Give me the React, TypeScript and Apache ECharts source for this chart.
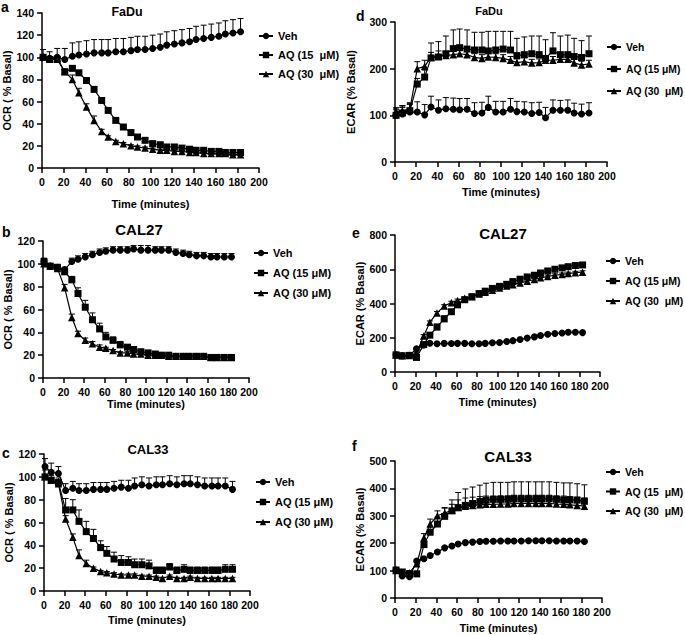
import React, { useEffect, useRef } from "react";
import * as echarts from "echarts";

// Measurement times (minutes)
const times = [1, 7, 14, 21, 28, 34, 41, 48, 55, 61, 68, 75, 82, 88, 95, 102, 109, 115, 122, 129, 136, 142, 149, 156, 163, 169, 176, 183];
const xTicks = [0, 20, 40, 60, 80, 100, 120, 140, 160, 180, 200];

// a: FaDu OCR
const vehA = [100, 99, 100, 98, 101, 102, 103, 104, 104, 104, 105, 105, 106, 107, 107, 108, 109, 111, 112, 113, 114, 116, 117, 118, 119, 121, 122, 123];
const vehAErr = [7, 6, 8, 10, 12, 12, 12, 12, 12, 12, 12, 12, 12, 12, 12, 12, 12, 12, 12, 12, 12, 12, 12, 12, 12, 12, 12, 12];
const aq15A = [100, 98, 98, 87, 90, 86, 79, 71, 61, 52, 43, 37, 32, 28, 25, 22, 21, 19, 19, 18, 17, 16, 16, 15, 15, 14, 14, 14];
const aq15AErr = [2, 2, 2, 2, 2, 2, 2, 2, 2, 2, 2, 2, 2, 2, 2, 2, 2, 2, 2, 2, 2, 2, 2, 2, 2, 2, 2, 2];
const aq30A = [100, 99, 99, 87, 80, 68, 55, 43, 33, 28, 24, 22, 20, 19, 18, 17, 16, 16, 15, 15, 14, 14, 13, 13, 13, 13, 12, 12];
const aq30AErr = [1, 1, 1, 2, 4, 4, 3, 4, 2, 1, 1, 1, 1, 1, 1, 1, 1, 1, 1, 1, 1, 1, 1, 1, 1, 1, 1, 1];

// d: FaDu ECAR
const vehD = [100, 103, 107, 107, 101, 118, 111, 114, 113, 112, 113, 104, 105, 117, 107, 107, 113, 108, 107, 104, 106, 95, 111, 111, 111, 105, 103, 105];
const vehDErr = [16, 18, 20, 22, 22, 23, 22, 24, 24, 24, 23, 23, 23, 24, 23, 23, 23, 22, 22, 23, 22, 22, 22, 21, 22, 21, 21, 22];
const aq15D = [100, 105, 110, 167, 182, 223, 225, 232, 243, 245, 242, 240, 240, 238, 240, 242, 240, 228, 230, 232, 230, 222, 238, 230, 230, 226, 224, 232];
const aq15DErr = [12, 12, 13, 12, 15, 32, 33, 38, 40, 40, 41, 38, 38, 42, 40, 38, 40, 37, 38, 38, 40, 40, 39, 40, 42, 39, 36, 38];
const aq30D = [108, 110, 113, 200, 205, 225, 228, 228, 230, 232, 230, 224, 222, 225, 224, 222, 218, 213, 215, 212, 213, 218, 218, 220, 220, 212, 208, 210];
const aq30DErr = [8, 10, 12, 15, 13, 10, 10, 8, 8, 8, 8, 8, 8, 8, 8, 8, 8, 8, 8, 8, 8, 8, 8, 8, 8, 8, 8, 8];

// b: CAL27 OCR
const vehB = [102, 98, 97, 95, 102, 104, 106, 108, 110, 111, 112, 112, 112, 113, 112, 112, 112, 112, 112, 110, 109, 108, 107, 107, 106, 106, 106, 106];
const vehBErr = [3, 2, 2, 2, 3, 3, 3, 3, 3, 3, 3, 3, 3, 3, 4, 4, 3, 3, 3, 3, 3, 3, 3, 3, 3, 3, 3, 3];
const aq15B = [102, 98, 97, 93, 86, 74, 62, 51, 43, 36, 33, 29, 27, 25, 23, 22, 21, 20, 20, 19, 19, 19, 19, 19, 18, 18, 18, 18];
const aq15BErr = [2, 2, 2, 3, 3, 5, 6, 6, 5, 4, 3, 3, 2, 2, 2, 2, 2, 2, 2, 2, 2, 2, 2, 2, 2, 2, 2, 2];
const aq30B = [100, 98, 96, 79, 53, 39, 33, 30, 27, 26, 24, 22, 22, 21, 21, 20, 20, 20, 19, 19, 19, 19, 19, 19, 18, 18, 18, 18];
const aq30BErr = [1, 1, 1, 3, 3, 2, 2, 2, 2, 1, 1, 1, 1, 1, 1, 1, 1, 1, 1, 1, 1, 1, 1, 1, 1, 1, 1, 1];

// e: CAL27 ECAR
const vehE = [100, 95, 97, 135, 158, 168, 165, 167, 166, 167, 167, 165, 165, 167, 171, 172, 178, 183, 190, 198, 205, 213, 220, 225, 228, 232, 232, 230];
const vehEErr = [5, 5, 5, 5, 5, 5, 5, 5, 5, 5, 5, 5, 5, 5, 5, 5, 5, 5, 5, 5, 5, 5, 5, 5, 5, 5, 5, 5];
const aq15E = [100, 95, 97, 85, 160, 215, 262, 310, 352, 392, 422, 440, 458, 472, 488, 500, 512, 528, 542, 555, 565, 578, 590, 600, 608, 615, 622, 625];
const aq15EErr = [5, 5, 5, 5, 10, 12, 18, 18, 12, 10, 8, 8, 8, 8, 8, 8, 8, 8, 8, 8, 8, 8, 8, 8, 8, 8, 8, 8];
const aq30E = [100, 95, 97, 110, 210, 290, 345, 385, 405, 418, 430, 440, 455, 465, 478, 490, 502, 510, 520, 530, 540, 550, 558, 565, 570, 575, 580, 583];
const aq30EErr = [5, 5, 5, 5, 8, 8, 8, 8, 8, 8, 8, 8, 8, 8, 8, 8, 8, 8, 8, 8, 8, 8, 8, 8, 8, 8, 8, 8];

// c: CAL33 OCR
const vehC = [109, 104, 103, 88, 90, 88, 88, 89, 89, 89, 90, 91, 90, 92, 93, 92, 93, 93, 94, 93, 94, 94, 93, 92, 92, 92, 92, 89];
const vehCErr = [7, 8, 6, 6, 6, 6, 6, 6, 6, 6, 6, 6, 7, 7, 7, 7, 7, 7, 7, 7, 7, 7, 7, 7, 7, 7, 7, 7];
const aq15C = [100, 97, 95, 71, 71, 61, 52, 46, 38, 33, 28, 25, 25, 23, 23, 22, 18, 18, 21, 18, 19, 18, 18, 18, 18, 18, 19, 19];
const aq15CErr = [6, 4, 4, 10, 9, 10, 9, 8, 6, 6, 6, 6, 5, 5, 5, 5, 3, 3, 3, 3, 4, 3, 3, 3, 3, 3, 4, 4];
const aq30C = [100, 97, 94, 63, 47, 31, 24, 20, 17, 16, 15, 14, 14, 14, 13, 13, 12, 11, 13, 11, 11, 12, 11, 11, 11, 11, 11, 11];
const aq30CErr = [2, 2, 2, 3, 3, 5, 3, 1, 1, 1, 1, 1, 1, 1, 1, 1, 1, 1, 1, 1, 1, 1, 1, 1, 1, 1, 1, 1];

// f: CAL33 ECAR
const vehF = [102, 80, 78, 135, 143, 155, 168, 183, 190, 197, 202, 204, 206, 207, 207, 208, 208, 208, 208, 209, 209, 209, 209, 208, 208, 208, 208, 206];
const vehFErr = [4, 4, 4, 4, 4, 4, 4, 4, 4, 4, 4, 4, 4, 4, 4, 4, 4, 4, 4, 4, 4, 4, 4, 4, 4, 4, 4, 4];
const aq15F = [102, 95, 88, 88, 195, 240, 270, 298, 318, 330, 338, 345, 352, 357, 360, 360, 360, 362, 362, 362, 362, 362, 362, 360, 358, 358, 357, 353];
const aq15FErr = [8, 8, 8, 10, 15, 20, 25, 30, 40, 55, 60, 60, 60, 62, 62, 62, 62, 62, 62, 62, 62, 62, 62, 62, 62, 62, 60, 60];
const aq30F = [100, 90, 92, 125, 220, 270, 300, 310, 320, 330, 335, 338, 340, 342, 342, 343, 343, 345, 345, 345, 345, 345, 345, 343, 342, 340, 338, 335];
const aq30FErr = [8, 8, 8, 10, 15, 18, 18, 20, 22, 28, 30, 30, 30, 30, 30, 30, 30, 30, 30, 30, 30, 30, 30, 30, 30, 30, 30, 30];

const FONT = "'Liberation Sans', Arial, Helvetica, sans-serif";

type P = {
  grid: { left: number; top: number; width: number; height: number };
  yMax: number; yInt: number; yName: string; yGap: number; xGap: number;
  title: string; tx: number; ty: number; tSize: number;
  letter: string; lx: number; ly: number;
  names: string[]; legLeft: number; legTop: number; legGap: number; legSize: number;
  vals: number[][]; errs: number[][];
};

const panels: P[] = [
  { grid: { left: 42, top: 13, width: 217, height: 155 }, yMax: 140, yInt: 20, yName: "OCR ( % Basal)", yGap: 27, xGap: 30,
    title: "FaDu", tx: 127, ty: 13, tSize: 12.5, letter: "a", lx: 1, ly: 7,
    names: ["Veh", "AQ (15  μM)", "AQ (30  μM)"], legLeft: 253, legTop: 24, legGap: 19, legSize: 11,
    vals: [vehA, aq15A, aq30A], errs: [vehAErr, aq15AErr, aq30AErr] },
  { grid: { left: 395, top: 22, width: 212, height: 140 }, yMax: 300, yInt: 100, yName: "ECAR (% Basal)", yGap: 39, xGap: 24,
    title: "FaDu", tx: 489, ty: 12, tSize: 11, letter: "d", lx: 356, ly: 17,
    names: ["Veh", "AQ (15 μM)", "AQ (30  μM)"], legLeft: 601, legTop: 35, legGap: 22, legSize: 10.3,
    vals: [vehD, aq15D, aq30D], errs: [vehDErr, aq15DErr, aq30DErr] },
  { grid: { left: 43, top: 241, width: 206, height: 137 }, yMax: 120, yInt: 20, yName: "OCR ( % Basal)", yGap: 26, xGap: 20,
    title: "CAL27", tx: 139, ty: 231, tSize: 15, letter: "b", lx: 2, ly: 233,
    names: ["Veh", "AQ (15 μM)", "AQ (30 μM)"], legLeft: 248, legTop: 241, legGap: 20, legSize: 11,
    vals: [vehB, aq15B, aq30B], errs: [vehBErr, aq15BErr, aq30BErr] },
  { grid: { left: 395, top: 235, width: 205, height: 137 }, yMax: 800, yInt: 200, yName: "ECAR (% Basal)", yGap: 29, xGap: 24,
    title: "CAL27", tx: 503, ty: 235, tSize: 15, letter: "e", lx: 352, ly: 234,
    names: ["Veh", "AQ (15 μM)", "AQ (30  μM)"], legLeft: 600, legTop: 249, legGap: 20, legSize: 10.5,
    vals: [vehE, aq15E, aq30E], errs: [vehEErr, aq15EErr, aq30EErr] },
  { grid: { left: 44, top: 454, width: 206, height: 137 }, yMax: 120, yInt: 20, yName: "OCR ( % Basal)", yGap: 28, xGap: 23,
    title: "CAL33", tx: 148, ty: 451, tSize: 13, letter: "c", lx: 2, ly: 454,
    names: ["Veh", "AQ (15 μM)", "AQ (30 μM)"], legLeft: 250, legTop: 470, legGap: 20, legSize: 11,
    vals: [vehC, aq15C, aq30C], errs: [vehCErr, aq15CErr, aq30CErr] },
  { grid: { left: 395, top: 461, width: 207, height: 137 }, yMax: 500, yInt: 100, yName: "ECAR (% Basal)", yGap: 29, xGap: 24,
    title: "CAL33", tx: 508, ty: 458, tSize: 15, letter: "f", lx: 352, ly: 447,
    names: ["Veh", "AQ (15  μM)", "AQ (30  μM)"], legLeft: 600, legTop: 460, legGap: 19.5, legSize: 10.5,
    vals: [vehF, aq15F, aq30F], errs: [vehFErr, aq15FErr, aq30FErr] },
];

const symbols = ["circle", "rect", "triangle"];
const symbolSizes = [7, 7, 7.5];

function errRender(params: any, api: any) {
  const x = api.value(0);
  const y = api.value(1);
  const e = api.value(2);
  const p0 = api.coord([x, y]);
  const p1 = api.coord([x, y + e]);
  const st = { stroke: "#000", lineWidth: 1 };
  return {
    type: "group",
    children: [
      { type: "line", shape: { x1: p0[0], y1: p0[1], x2: p1[0], y2: p1[1] }, style: st },
      { type: "line", shape: { x1: p1[0] - 3, y1: p1[1], x2: p1[0] + 3, y2: p1[1] }, style: st },
    ],
  };
}

export default function App() {
  const ref = useRef<HTMLDivElement>(null);
  useEffect(() => {
    document.body.style.margin = "0";
    const chart = echarts.init(ref.current!, undefined, { renderer: "svg" });
    const grids: any[] = [];
    const xAxes: any[] = [];
    const yAxes: any[] = [];
    const series: any[] = [];
    const legends: any[] = [];
    const titles: any[] = [];
    const graphics: any[] = [];
    const axisLine = { lineStyle: { color: "#000", width: 1.5 } };
    const axisTick = { length: 5, lineStyle: { color: "#000", width: 1.5 } };
    const label = { color: "#000", fontFamily: FONT, fontWeight: "bold", fontSize: 10.5 };
    panels.forEach((p, i) => {
      grids.push({ ...p.grid });
      xAxes.push({
        type: "value", gridIndex: i, min: 0, max: 200, interval: 20,
        name: "Time (minutes)", nameLocation: "middle", nameGap: p.xGap,
        nameTextStyle: { color: "#000", fontFamily: FONT, fontWeight: "bold", fontSize: 11 },
        axisLine, axisTick, splitLine: { show: false },
        axisLabel: { ...label, margin: 8, formatter: (v: number) => (xTicks.includes(v) ? String(v) : "") },
      });
      yAxes.push({
        type: "value", gridIndex: i, min: 0, max: p.yMax, interval: p.yInt,
        name: p.yName, nameLocation: "middle", nameGap: p.yGap,
        nameTextStyle: { color: "#000", fontFamily: FONT, fontWeight: "bold", fontSize: 11 },
        axisLine: { ...axisLine, show: true }, axisTick, splitLine: { show: false },
        axisLabel: { ...label, margin: 8 },
      });
      p.vals.forEach((vals, k) => {
        series.push({
          type: "line", name: p.names[k], xAxisIndex: i, yAxisIndex: i, z: 3,
          symbol: symbols[k], symbolSize: symbolSizes[k], showSymbol: true,
          itemStyle: { color: "#000" }, lineStyle: { color: "#000", width: 1.2 },
          data: times.map((t, j) => [t, vals[j]]),
        });
      });
      p.vals.forEach((vals, k) => {
        series.push({
          type: "custom", name: `${p.letter}-err-${k}`, xAxisIndex: i, yAxisIndex: i,
          renderItem: errRender, z: 1, silent: true,
          encode: { x: 0, y: 1 },
          data: times.map((t, j) => [t, vals[j], p.errs[k][j]]),
        });
      });
      legends.push({
        orient: "vertical", left: p.legLeft, top: p.legTop, itemWidth: 14, itemHeight: 8,
        itemGap: p.legGap - 14, data: p.names, selectedMode: false,
        textStyle: { color: "#000", fontFamily: FONT, fontWeight: "bold", fontSize: p.legSize, lineHeight: 14 },
      });
      titles.push({
        text: p.title, left: p.tx, top: p.ty - p.tSize * 0.6, textAlign: "center",
        padding: 0,
        textStyle: { color: "#000", fontFamily: FONT, fontWeight: "bold", fontSize: p.tSize },
      });
      graphics.push({
        type: "text", left: p.lx, top: Math.max(0, p.ly - 8),
        style: { text: p.letter, fill: "#000", font: `bold 14px ${FONT}` },
      });
    });
    chart.setOption({
      animation: false,
      backgroundColor: "#fff",
      grid: grids, xAxis: xAxes, yAxis: yAxes, series, legend: legends, title: titles, graphic: graphics,
    });
    return () => chart.dispose();
  }, []);
  return <div ref={ref} style={{ width: 685, height: 635 }} />;
}
